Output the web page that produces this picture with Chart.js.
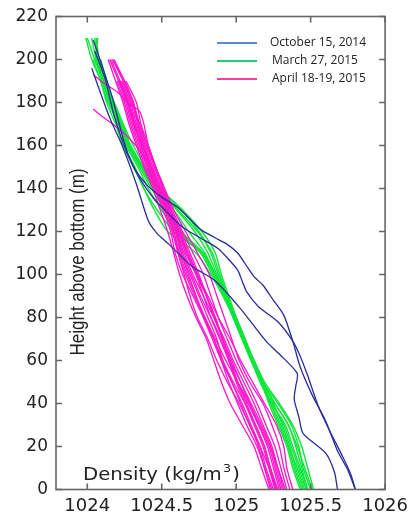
<!DOCTYPE html>
<html>
<head>
<meta charset="utf-8">
<script src="https://cdn.jsdelivr.net/npm/chart.js@4.4.1/dist/chart.umd.min.js"></script>
<style>
  html, body { margin: 0; padding: 0; background: #fff; }
  canvas { display: block; }
</style>
</head>
<body>
<canvas id="chartCanvas" width="416" height="512"></canvas>
<script>
const densityTicks = [1024, 1024.5, 1025, 1025.5, 1026];
const heightTicks = [0, 20, 40, 60, 80, 100, 120, 140, 160, 180, 200, 220];

// shared height grid (m) for the March and April casts
const gridHeights = [0, 10, 20, 30, 40, 50, 60, 70, 80, 90, 100, 110, 120, 130, 140, 150, 160, 170, 180, 190, 200, 210];

// October 15, 2014
const octHeightsA = [0, 8, 17, 26, 34, 42, 48, 54, 63, 69, 84, 97, 104, 114, 119, 125, 142, 159, 173, 192, 196];
const octDensityA = [1025.68, 1025.66, 1025.60, 1025.45, 1025.42, 1025.39, 1025.40, 1025.41, 1025.29, 1025.20, 1025.03, 1024.86, 1024.70, 1024.55, 1024.47, 1024.41, 1024.33, 1024.24, 1024.15, 1024.05, 1024.03];
const octHeightsB = [0, 9, 18, 32, 44, 57, 69, 81, 88, 95, 99, 105, 110, 114, 117, 121, 125, 131, 136, 141, 149, 161, 182, 197, 209];
const octDensityB = [1025.80, 1025.75, 1025.68, 1025.60, 1025.51, 1025.43, 1025.38, 1025.32, 1025.25, 1025.18, 1025.12, 1025.06, 1025.01, 1024.94, 1024.86, 1024.76, 1024.70, 1024.61, 1024.50, 1024.41, 1024.32, 1024.25, 1024.17, 1024.10, 1024.04];
const octHeightsC = [0, 7, 16, 27, 39, 53, 62, 69, 78, 85, 92, 97, 102, 107, 112, 117, 122, 128, 135, 145, 156, 174, 191, 204];
const octDensityC = [1025.80, 1025.77, 1025.71, 1025.63, 1025.55, 1025.48, 1025.43, 1025.38, 1025.28, 1025.15, 1025.07, 1025.04, 1025.01, 1024.95, 1024.88, 1024.76, 1024.64, 1024.55, 1024.45, 1024.35, 1024.27, 1024.18, 1024.12, 1024.05];

// March 27, 2015 (on gridHeights)
const marDensity1 = [1025.46, 1025.41, 1025.35, 1025.29, 1025.23, 1025.17, 1025.11, 1025.05, 1024.99, 1024.93, 1024.86, 1024.77, 1024.58, 1024.47, 1024.38, 1024.32, 1024.24, 1024.19, 1024.13, 1024.09, 1024.03, 1023.99];
const marDensity2 = [1025.48, 1025.44, 1025.40, 1025.35, 1025.26, 1025.18, 1025.11, 1025.05, 1024.99, 1024.93, 1024.87, 1024.81, 1024.72, 1024.60, 1024.46, 1024.36, 1024.28, 1024.22, 1024.15, 1024.11, 1024.06, 1024.03];
const marDensity3 = [1025.50, 1025.45, 1025.42, 1025.37, 1025.28, 1025.18, 1025.12, 1025.05, 1025.00, 1024.94, 1024.88, 1024.83, 1024.75, 1024.63, 1024.48, 1024.38, 1024.29, 1024.23, 1024.16, 1024.11, 1024.07, 1024.05];
const marDensity4 = [1025.43, 1025.38, 1025.34, 1025.28, 1025.22, 1025.17, 1025.11, 1025.05, 1024.99, 1024.92, 1024.84, 1024.76, 1024.60, 1024.50, 1024.41, 1024.34, 1024.26, 1024.21, 1024.15, 1024.10, 1024.06, 1024.07];
const marDensity5 = [1025.52, 1025.48, 1025.44, 1025.38, 1025.29, 1025.19, 1025.12, 1025.05, 1024.99, 1024.94, 1024.89, 1024.84, 1024.74, 1024.61, 1024.47, 1024.37, 1024.28, 1024.23, 1024.17, 1024.13, 1024.09, null];
const marDensity6 = [1025.45, 1025.40, 1025.36, 1025.31, 1025.25, 1025.18, 1025.11, 1025.04, 1024.98, 1024.93, 1024.86, 1024.79, 1024.68, 1024.58, 1024.45, 1024.37, 1024.29, 1024.24, 1024.18, 1024.12, 1024.08, null];
const marDensity7 = [1025.48, 1025.43, 1025.38, 1025.33, 1025.24, 1025.17, 1025.10, 1025.04, 1024.98, 1024.91, 1024.83, 1024.73, 1024.54, 1024.45, 1024.38, 1024.31, 1024.24, 1024.20, 1024.15, 1024.11, 1024.05, 1024.00];
const marDensity8 = [1025.47, 1025.42, 1025.37, 1025.32, 1025.24, 1025.17, 1025.11, 1025.06, 1025.00, 1024.94, 1024.86, 1024.78, 1024.63, 1024.53, 1024.44, 1024.36, 1024.27, 1024.21, 1024.14, 1024.09, 1024.04, null];
const marDensity9 = [1025.51, 1025.46, 1025.41, 1025.35, 1025.26, 1025.18, 1025.12, 1025.06, 1025.00, 1024.95, 1024.90, 1024.86, 1024.77, 1024.64, 1024.49, 1024.39, 1024.31, 1024.24, 1024.18, 1024.12, 1024.08, 1024.06];
const marDensity10 = [1025.44, 1025.39, 1025.35, 1025.30, 1025.23, 1025.16, 1025.10, 1025.04, 1024.98, 1024.92, 1024.85, 1024.77, 1024.62, 1024.52, 1024.43, 1024.35, 1024.27, 1024.22, 1024.16, 1024.11, 1024.05, null];

// April 18-19, 2015 (on gridHeights, up to 200 m)
const aprDensity1 = [1025.22, 1025.17, 1025.12, 1025.04, 1024.96, 1024.90, 1024.85, 1024.80, 1024.73, 1024.67, 1024.62, 1024.58, 1024.54, 1024.49, 1024.44, 1024.38, 1024.33, 1024.28, 1024.24, 1024.19, 1024.14];
const aprDensity2 = [1025.23, 1025.19, 1025.14, 1025.07, 1025.01, 1024.95, 1024.90, 1024.85, 1024.78, 1024.71, 1024.64, 1024.59, 1024.56, 1024.51, 1024.45, 1024.39, 1024.34, 1024.29, 1024.25, 1024.20];
const aprDensity3 = [1025.25, 1025.20, 1025.16, 1025.10, 1025.04, 1024.97, 1024.91, 1024.87, 1024.81, 1024.75, 1024.69, 1024.63, 1024.59, 1024.53, 1024.46, 1024.40, 1024.35, 1024.30, 1024.26, 1024.21, 1024.15];
const aprDensity4 = [1025.26, 1025.22, 1025.18, 1025.12, 1025.06, 1025.00, 1024.95, 1024.90, 1024.83, 1024.76, 1024.70, 1024.64, 1024.60, 1024.54, 1024.47, 1024.41, 1024.36, 1024.31, 1024.27, 1024.22];
const aprDensity5 = [1025.27, 1025.23, 1025.19, 1025.13, 1025.07, 1025.01, 1024.96, 1024.91, 1024.86, 1024.80, 1024.73, 1024.66, 1024.61, 1024.54, 1024.48, 1024.42, 1024.37, 1024.32, 1024.28, 1024.22, 1024.16];
const aprDensity6 = [1025.30, 1025.26, 1025.22, 1025.15, 1025.08, 1025.01, 1024.95, 1024.89, 1024.83, 1024.78, 1024.73, 1024.67, 1024.61, 1024.55, 1024.49, 1024.43, 1024.38, 1024.33, 1024.29, 1024.23];
const aprDensity7 = [1025.31, 1025.27, 1025.23, 1025.17, 1025.10, 1025.03, 1024.96, 1024.91, 1024.85, 1024.80, 1024.75, 1024.69, 1024.63, 1024.56, 1024.50, 1024.44, 1024.39, 1024.34, 1024.30, 1024.24, 1024.17];
const aprDensity8 = [1025.28, 1025.23, 1025.19, 1025.13, 1025.06, 1024.98, 1024.91, 1024.85, 1024.79, 1024.73, 1024.67, 1024.62, 1024.58, 1024.53, 1024.48, 1024.42, 1024.37, 1024.31, 1024.27, 1024.22];
const aprDensity9 = [1025.34, 1025.30, 1025.26, 1025.20, 1025.14, 1025.07, 1025.00, 1024.94, 1024.88, 1024.83, 1024.78, 1024.71, 1024.64, 1024.57, 1024.51, 1024.45, 1024.40, 1024.35, 1024.30, 1024.24];
const aprDensity10 = [1025.36, 1025.32, 1025.29, 1025.24, 1025.18, 1025.09, 1025.02, 1024.97, 1024.92, 1024.87, 1024.82, 1024.74, 1024.66, 1024.58, 1024.52, 1024.46, 1024.40, 1024.35, 1024.31, 1024.25, 1024.18];
const aprDensity11 = [1025.24, 1025.19, 1025.15, 1025.09, 1025.02, 1024.94, 1024.87, 1024.81, 1024.74, 1024.69, 1024.65, 1024.61, 1024.58, 1024.54, 1024.49, 1024.43, 1024.37, 1024.32, 1024.27, 1024.21];
const aprDensity12 = [1025.38, 1025.34, 1025.32, 1025.27, 1025.19, 1025.11, 1025.03, 1024.96, 1024.88, 1024.81, 1024.74, 1024.67, 1024.62, 1024.56, 1024.51, 1024.46, 1024.41, 1024.36, 1024.33, 1024.26];
const aprDensity13 = [1025.29, 1025.25, 1025.21, 1025.15, 1025.09, 1025.01, 1024.93, 1024.86, 1024.79, 1024.72, 1024.66, 1024.61, 1024.57, 1024.52, 1024.46, 1024.41, 1024.36, 1024.32, 1024.28, 1024.22];
const aprDensity14 = [1025.32, 1025.28, 1025.24, 1025.18, 1025.12, 1025.05, 1024.98, 1024.92, 1024.85, 1024.78, 1024.71, 1024.65, 1024.60, 1024.55, 1024.49, 1024.43, 1024.38, 1024.34, 1024.31, 1024.25, 1024.17];
// two April casts that start lower, with their own heights
const aprHeightsX = [0, 10, 20, 30, 40, 50, 60, 70, 80, 90, 100, 110, 120, 130, 140, 150, 160, 170, 176, 180, 185, 189, 193];
const aprDensityX = [1025.33, 1025.28, 1025.23, 1025.16, 1025.09, 1025.03, 1024.97, 1024.91, 1024.86, 1024.80, 1024.74, 1024.68, 1024.62, 1024.56, 1024.51, 1024.46, 1024.41, 1024.38, 1024.35, 1024.27, 1024.20, 1024.11, 1024.04];
const aprHeightsY = [0, 10, 20, 30, 40, 50, 60, 70, 80, 90, 100, 110, 120, 130, 140, 150, 156, 162, 166, 170, 173, 177];
const aprDensityY = [1025.27, 1025.22, 1025.16, 1025.09, 1025.03, 1024.97, 1024.90, 1024.84, 1024.78, 1024.73, 1024.68, 1024.63, 1024.60, 1024.54, 1024.47, 1024.41, 1024.37, 1024.30, 1024.24, 1024.17, 1024.11, 1024.04];

const legendItems = [
  { label: 'October 15, 2014', color: '#5b8ad4' },
  { label: 'March 27, 2015', color: '#21cc74' },
  { label: 'April 18-19, 2015', color: '#ff3aa8' }
];

const blue = '#2a2c9c';
const green = '#0ee53a';
const magenta = '#ff14cc';

function profile(heights, densities) {
  return densities
    .map((d, i) => ({ x: d, y: heights[i] }))
    .filter(p => p.x != null);
}

function cast(heights, densities, color, width) {
  return {
    data: profile(heights, densities),
    borderColor: color,
    borderWidth: width,
    showLine: true,
    pointRadius: 0,
    fill: false
  };
}

const datasets = [
  cast(octHeightsA, octDensityA, blue, 1.3),
  cast(octHeightsB, octDensityB, blue, 1.3),
  cast(octHeightsC, octDensityC, blue, 1.3),
  ...[aprDensity1, aprDensity2, aprDensity3, aprDensity4, aprDensity5, aprDensity6, aprDensity7,
      aprDensity8, aprDensity9, aprDensity10, aprDensity11, aprDensity12, aprDensity13, aprDensity14]
    .map(d => cast(gridHeights, d, magenta, 1.3)),
  cast(aprHeightsX, aprDensityX, magenta, 1.3),
  cast(aprHeightsY, aprDensityY, magenta, 1.3),
  ...[marDensity1, marDensity2, marDensity3, marDensity4, marDensity5,
      marDensity6, marDensity7, marDensity8, marDensity9, marDensity10]
    .map(d => cast(gridHeights, d, green, 1.4))
];

// box, inward ticks on all sides, in-plot axis titles and legend
const frame = {
  id: 'frame',
  afterDraw(chart) {
    const { ctx, chartArea: a, scales: { x, y } } = chart;
    ctx.save();
    ctx.strokeStyle = '#666';
    ctx.lineWidth = 1.6;
    ctx.strokeRect(a.left, a.top, a.right - a.left, a.bottom - a.top);
    ctx.beginPath();
    densityTicks.forEach(v => {
      const px = x.getPixelForValue(v);
      ctx.moveTo(px, a.bottom); ctx.lineTo(px, a.bottom - 6);
      ctx.moveTo(px, a.top); ctx.lineTo(px, a.top + 6);
    });
    heightTicks.forEach(v => {
      const py = y.getPixelForValue(v);
      ctx.moveTo(a.left, py); ctx.lineTo(a.left + 6, py);
      ctx.moveTo(a.right, py); ctx.lineTo(a.right - 6, py);
    });
    ctx.stroke();

    ctx.fillStyle = '#222';
    // y title
    ctx.save();
    ctx.translate(79, 262);
    ctx.rotate(-Math.PI / 2);
    ctx.scale(1, 1.15);
    ctx.font = '17px "Liberation Sans"';
    ctx.textAlign = 'center';
    ctx.textBaseline = 'middle';
    ctx.fillText('Height above bottom (m)', 0, 0);
    ctx.restore();

    // x title
    ctx.save();
    ctx.translate(83, 480);
    ctx.scale(1.16, 1);
    ctx.textBaseline = 'alphabetic';
    ctx.font = '17px "DejaVu Sans"';
    const main = 'Density (kg/m';
    ctx.fillText(main, 0, 0);
    let w = ctx.measureText(main).width;
    ctx.font = '11px "DejaVu Sans"';
    ctx.fillText('3', w + 1, -8);
    w += ctx.measureText('3').width + 2;
    ctx.font = '17px "DejaVu Sans"';
    ctx.fillText(')', w, 0);
    ctx.restore();

    // legend
    ctx.font = '12px "Open Sans"';
    ctx.textBaseline = 'middle';
    legendItems.forEach((item, i) => {
      const ly = 43 + i * 18;
      ctx.strokeStyle = item.color;
      ctx.lineWidth = 2;
      ctx.beginPath();
      ctx.moveTo(217, ly);
      ctx.lineTo(257, ly);
      ctx.stroke();
      ctx.fillStyle = '#222';
      ctx.fillText(item.label, i === 0 ? 270 : 272, ly);
    });
    ctx.restore();
  }
};

new Chart(document.getElementById('chartCanvas'), {
  type: 'scatter',
  data: { datasets },
  options: {
    responsive: false,
    animation: false,
    devicePixelRatio: 1,
    layout: { padding: { left: 10, right: 24, top: 10.7, bottom: 0 } },
    elements: { line: { tension: 0.25 } },
    plugins: { legend: { display: false }, tooltip: { enabled: false } },
    scales: {
      x: {
        type: 'linear',
        min: 1023.79,
        max: 1026,
        grid: { display: false, drawTicks: false },
        border: { display: false },
        afterBuildTicks: s => { s.ticks = densityTicks.map(v => ({ value: v })); },
        afterFit: s => { s.height = 22.5; },
        ticks: {
          padding: 8,
          color: '#222',
          maxRotation: 0,
          autoSkip: false,
          font: { family: 'DejaVu Sans', size: 18, lineHeight: 1 },
          callback: v => String(v)
        }
      },
      y: {
        type: 'linear',
        min: 0,
        max: 220,
        grid: { display: false, drawTicks: false },
        border: { display: false },
        afterBuildTicks: s => { s.ticks = heightTicks.map(v => ({ value: v })); },
        afterFit: s => { s.width = 46; },
        ticks: {
          padding: 8,
          color: '#222',
          autoSkip: false,
          font: { family: 'DejaVu Sans', size: 17, lineHeight: 1 },
          callback: v => String(v)
        }
      }
    }
  },
  plugins: [frame]
});
</script>
</body>
</html>
